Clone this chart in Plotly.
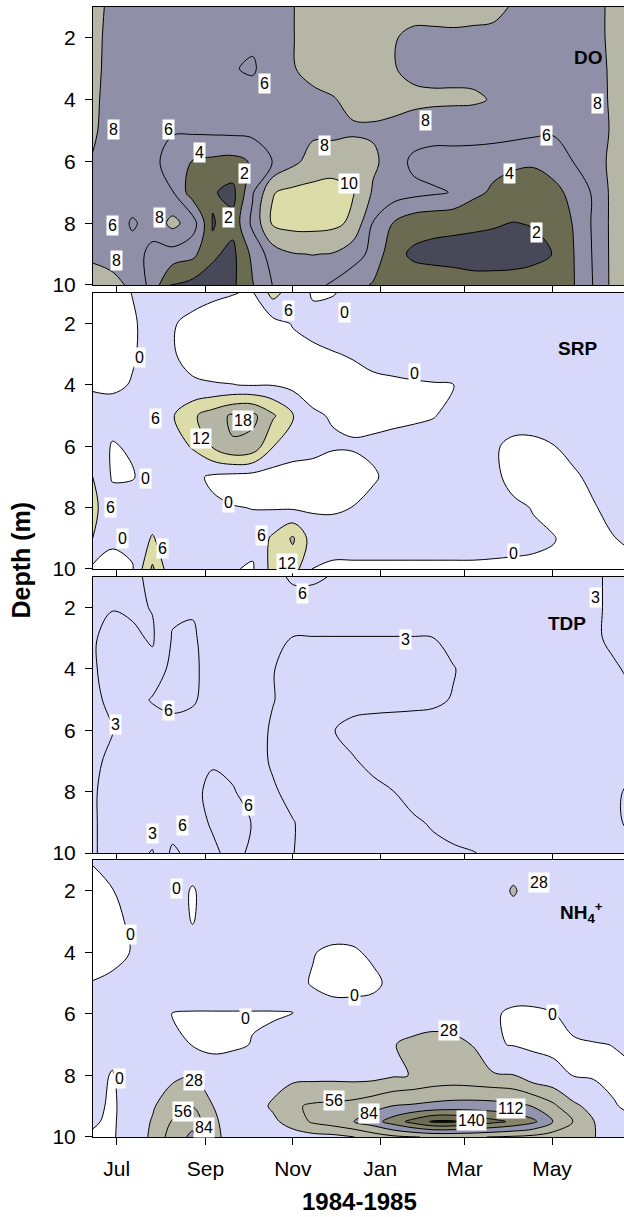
import pandas as pd
import plotly.graph_objects as go

# ---------------- data ----------------
grid_dates = pd.date_range("1984-06-14", periods=28, freq="14D")
depth = [1, 2, 3, 4, 5, 6, 7, 8, 9, 10]
nh4_depth = [1, 2, 3, 4, 5, 6, 7, 8, 9, 9.5, 10]

do_z = [
    [8.6, 7.6, 7.3, 7.2, 7.2, 7.2, 7.3, 7.4, 7.5, 7.8, 7.95, 8.6, 8.8, 8.8, 8.7, 8.6, 8.5, 8.5, 8.4, 8.3, 8.3, 7.9, 7.5, 7.4, 7.5, 7.6, 8.3, 9.0],
    [8.5, 7.5, 7.1, 7.0, 7.0, 6.9, 6.8, 6.5, 6.3, 7.2, 7.95, 8.6, 8.8, 8.7, 8.4, 8.1, 7.7, 7.7, 7.8, 7.8, 7.7, 7.4, 7.3, 7.2, 7.2, 7.6, 8.3, 9.0],
    [8.5, 7.4, 7.0, 6.9, 6.8, 6.7, 6.6, 6.1, 5.8, 6.9, 7.9, 8.5, 8.7, 8.6, 8.4, 8.1, 7.6, 7.5, 7.6, 7.6, 7.5, 7.2, 7.1, 7.0, 7.0, 7.4, 8.3, 9.0],
    [8.4, 7.3, 6.9, 6.8, 6.7, 6.6, 6.6, 6.6, 6.7, 7.0, 7.4, 7.6, 7.9, 8.4, 8.5, 8.5, 8.4, 8.3, 8.25, 8.2, 7.9, 7.1, 6.9, 6.8, 6.9, 7.3, 8.3, 9.0],
    [8.3, 7.2, 6.8, 6.5, 6.1, 6.3, 6.4, 6.5, 6.6, 6.8, 7.2, 7.6, 7.3, 7.8, 7.8, 7.6, 7.2, 7.0, 7.0, 7.0, 7.0, 6.8, 6.5, 6.3, 6.5, 7.0, 8.3, 9.0],
    [7.9, 7.1, 6.8, 6.3, 5.5, 3.9, 3.6, 3.4, 4.2, 6.05, 7.5, 8.8, 9.5, 8.8, 8.3, 7.3, 5.5, 5.0, 5.0, 4.9, 4.6, 4.3, 4.2, 4.6, 6.05, 7.0, 8.6, 9.0],
    [7.6, 7.2, 6.9, 6.6, 6.05, 3.0, 2.2, 1.4, 5.8, 9.9, 10.5, 10.6, 10.4, 10.1, 7.8, 7.0, 6.6, 6.3, 5.9, 4.5, 3.7, 3.3, 3.2, 3.6, 4.4, 6.3, 8.6, 9.0],
    [7.4, 7.0, 5.8, 6.6, 8.6, 7.0, 1.9, 2.6, 6.5, 10.3, 10.7, 10.7, 10.5, 9.6, 5.9, 3.95, 2.8, 2.5, 2.4, 2.3, 2.15, 1.95, 2.1, 2.8, 4.1, 6.3, 8.6, 9.0],
    [7.8, 7.6, 6.6, 5.6, 5.2, 4.5, 2.3, 1.5, 4.5, 7.0, 7.9, 8.05, 7.9, 6.8, 5.5, 2.6, 1.7, 1.5, 1.4, 1.3, 1.3, 1.3, 1.5, 2.05, 3.95, 6.2, 8.6, 9.0],
    [8.5, 8.3, 7.8, 5.2, 1.7, 1.4, 1.2, 1.6, 3.9, 6.05, 6.8, 6.6, 5.7, 4.8, 3.8, 3.0, 3.0, 2.9, 2.8, 2.6, 2.6, 2.7, 2.9, 3.2, 3.9, 6.1, 8.6, 9.0],
]

srp_z = [
    [-1.0, -1.5, 0.1, 2.0, 2.5, 1.5, 0.8, 0.2, -0.5, 8.0, 3.0, -0.5, -0.3, 1.5, 2.5, 2.8, 3.0, 3.0, 3.0, 3.0, 3.0, 3.0, 3.0, 3.0, 3.0, 3.0, 3.0, 3.0],
    [-1.2, -1.5, -0.5, 1.5, 0.3, -1.0, -2.0, -2.5, -2.5, -2.0, 0.3, 1.5, 2.5, 3.0, 3.0, 3.0, 3.0, 3.0, 3.0, 3.0, 3.0, 3.0, 3.0, 3.0, 3.0, 3.0, 3.0, 3.0],
    [-1.0, -1.5, -0.3, 1.2, 0.3, -1.2, -2.5, -3.0, -3.0, -2.5, -1.8, -1.0, -0.3, 0.4, 2.0, 2.5, 3.0, 3.0, 3.0, 3.0, 3.0, 3.0, 3.0, 3.0, 3.0, 3.0, 3.0, 3.0],
    [-0.4, -0.6, 0.2, 1.5, 1.8, 0.5, 0.3, 0.1, -0.3, -0.2, -1.5, -1.5, -1.8, -1.8, -1.5, -1.0, -0.6, -0.3, -0.2, 1.5, 2.5, 3.0, 3.0, 3.0, 3.0, 3.0, 3.0, 3.0],
    [1.5, 1.5, 2.0, 2.5, 5.5, 11.0, 15.0, 19.0, 19.5, 13.0, 6.2, 0.5, -0.3, -1.2, -1.5, -1.5, -1.0, -0.3, 1.5, 2.5, 3.0, 3.0, 3.0, 3.0, 3.0, 3.0, 3.0, 3.0],
    [2.5, -0.3, 0.5, 2.0, 3.5, 6.5, 12.5, 17.5, 16.0, 6.2, 3.0, 2.0, 0.5, 0.5, 1.0, 2.0, 2.5, 2.8, 3.0, 3.0, 0.8, -1.5, -1.5, -0.2, 2.0, 2.5, 3.0, 3.0],
    [6.2, -0.5, -0.3, 2.0, 2.5, 1.5, -1.0, -2.0, -2.5, -2.8, -3.0, -3.0, -3.0, -2.5, -0.6, 1.5, 2.5, 3.0, 2.5, 2.5, 1.5, -2.0, -2.5, -2.5, -1.0, 1.5, 2.5, 3.0],
    [7.5, 2.5, 2.5, 2.5, 2.5, 2.0, 1.0, 0.2, -0.1, -0.5, -0.8, -0.7, -0.7, 0.1, 1.5, 2.5, 3.0, 3.0, 3.0, 3.0, 2.5, 1.2, -0.3, -2.0, -2.0, -0.5, 2.0, 3.0],
    [6.3, 0.8, 2.0, 6.5, 2.0, 2.0, 1.5, 1.0, 1.5, 7.0, 12.8, 3.0, 2.5, 2.5, 2.5, 2.5, 2.5, 2.5, 2.5, 2.5, 2.0, 1.5, 1.0, 0.3, -2.0, -2.0, -0.2, 1.5],
    [-1.0, -1.5, -0.5, 13.0, 1.0, 1.5, 1.0, 0.3, -0.5, 8.0, 9.0, -0.5, -1.0, -1.0, -1.0, -1.0, -1.0, -1.0, -1.0, -1.0, -1.0, -1.0, -1.0, -1.2, -1.5, -2.0, -2.0, -2.0],
]

tdp_z = [
    [2.5, 2.0, 2.4, 3.6, 4.5, 4.8, 4.8, 4.5, 4.5, 5.0, 6.5, 6.5, 5.8, 4.5, 4.5, 4.5, 4.5, 4.5, 4.5, 4.5, 4.5, 4.5, 4.5, 4.5, 4.5, 3.4, 2.5, 2.0],
    [2.5, 2.8, 2.6, 3.1, 5.5, 5.8, 5.0, 4.5, 4.5, 4.5, 4.5, 4.5, 4.5, 4.5, 4.5, 4.5, 4.5, 4.5, 4.5, 4.5, 4.5, 4.5, 4.5, 4.5, 4.5, 3.4, 2.5, 2.0],
    [2.5, 4.5, 3.5, 2.7, 6.2, 6.3, 5.0, 4.5, 4.5, 3.8, 2.9, 2.9, 2.9, 2.9, 2.9, 2.9, 2.9, 2.95, 4.2, 4.5, 4.5, 4.5, 4.5, 4.5, 4.5, 3.4, 2.5, 2.0],
    [2.5, 4.5, 4.2, 3.8, 7.0, 6.5, 5.0, 4.5, 4.5, 3.1, 2.2, 2.0, 2.0, 2.0, 2.0, 2.0, 2.1, 2.3, 2.8, 4.3, 4.5, 4.5, 4.5, 4.5, 4.5, 4.3, 3.3, 2.5],
    [2.5, 3.5, 4.5, 6.3, 6.8, 6.3, 5.0, 4.5, 4.5, 3.1, 2.2, 2.0, 2.0, 2.0, 2.0, 2.1, 2.2, 2.4, 3.2, 4.3, 4.5, 4.5, 4.5, 4.5, 4.5, 4.5, 4.0, 3.2],
    [2.5, 2.9, 4.5, 4.0, 5.0, 5.0, 4.8, 4.5, 4.0, 2.7, 2.2, 2.3, 2.9, 3.8, 4.2, 4.3, 4.4, 4.5, 4.5, 4.5, 4.5, 4.5, 4.5, 4.5, 4.5, 4.5, 4.3, 4.0],
    [2.5, 3.5, 4.5, 4.5, 4.8, 5.0, 5.8, 5.3, 4.0, 2.7, 2.0, 2.0, 2.2, 2.8, 3.6, 4.2, 4.4, 4.5, 4.5, 4.5, 4.5, 4.5, 4.5, 4.5, 4.5, 4.5, 4.5, 4.5],
    [2.5, 4.5, 4.5, 4.5, 4.5, 5.5, 6.5, 6.2, 5.0, 3.3, 2.3, 2.0, 2.0, 2.1, 2.4, 2.95, 4.0, 4.5, 4.5, 4.5, 4.5, 4.5, 4.5, 4.5, 4.5, 4.5, 3.8, 2.0],
    [2.5, 4.5, 4.5, 4.5, 4.5, 5.0, 6.3, 7.0, 5.9, 4.0, 3.1, 2.2, 2.0, 2.0, 2.0, 2.2, 2.6, 3.3, 4.2, 4.5, 4.5, 4.5, 4.5, 4.5, 4.5, 4.5, 3.8, 2.0],
    [2.5, 4.5, 4.0, 2.8, 6.6, 5.0, 5.5, 6.8, 5.5, 4.0, 3.05, 2.3, 2.1, 2.0, 2.0, 2.0, 2.1, 2.3, 2.5, 2.9, 3.5, 4.5, 4.5, 4.5, 4.5, 4.5, 4.3, 4.0],
]

nh4_z = [
    [1.0, 5.0, 8.0, 10, 10, 10, 10, 10, 10, 10, 10, 10, 10, 10, 10, 10, 10, 10, 10, 10, 10, 10, 10, 10, 10, 10, 10, 10],
    [-5.0, -0.5, 6.0, 10, 10, -2.0, 10, 10, 10, 10, 10, 10, 10, 10, 10, 10, 10, 10, 10, 10, 10, 32, 10, 10, 10, 10, 10, 10],
    [-6.0, -3.0, 2.0, 10, 10, -1.0, 10, 10, 10, 10, 10, 6.0, 6.0, 6.0, 6.0, 10, 10, 10, 10, 10, 10, 10, 10, 10, 10, 10, 10, 10],
    [-6.0, -3.0, 0.5, 10, 10, 10, 10, 10, 10, 10, 8.0, 0.5, -2.0, -1.5, 2.0, 10, 10, 10, 10, 10, 10, 10, 10, 10, 10, 10, 10, 10],
    [0.5, 2.0, 8.0, 10, 10, 10, 10, 10, 10, 10, 3.0, -0.8, -4.0, -4.0, -2.5, 3.0, 10, 10, 10, 10, 10, 10, 10, 10, 10, 10, 10, 10],
    [10, 10, 10, 10, -0.5, -1.0, -1.0, -1.0, -1.0, -1.0, -0.3, 5.0, 5.0, 5.0, 5.0, 10, 15, 20, 20, 8.0, 2.0, -3.0, -3.0, -0.5, 8.0, 10, 10, 10],
    [10, 5.0, 10, 10, 3.0, -0.5, -6.0, -2.0, 0.5, 3.0, 10, 10, 10, 12, 18, 27, 33, 34, 32, 27.5, 2.0, -1.0, -3.0, -4.0, -3.0, -1.0, 0.3, 5.0],
    [5.0, -1.0, 8.0, 15, 22, 29, 14, 8.0, 10, 15, 20, 20, 20, 18, 18, 25, 29, 36, 38, 35, 31, 29, 10, 5.0, -0.5, -3.0, -3.0, -3.0],
    [5.0, -3.0, 10, 25, 45, 55, 28.5, 10, 15, 32, 52, 60, 62, 66, 75, 85, 88, 92, 95, 96, 95, 90, 83, 62, 33, 20, 1.0, -3.0],
    [2.0, -3.0, 12, 30, 58, 75, 35, 12, 15, 22, 40, 60, 70, 83, 100, 125, 150, 172, 172, 160, 148, 135, 118, 83, 55, 29, 5.0, 2.0],
    [-2.0, -3.0, 15, 32, 70, 90, 40, 12, 10, 12, 15, 18, 20, 27, 40, 50, 55, 58, 58, 58, 55, 52, 48, 42, 35, 29, 18, 10],
]

do_levels = dict(start=2, end=10, size=2)
srp_levels = dict(start=0, end=18, size=6)
tdp_levels = dict(start=3, end=6, size=3)
nh4_levels = dict(start=0, end=168, size=28)

month_ticks = ["1984-07-01", "1984-09-01", "1984-11-01", "1985-01-01", "1985-03-01", "1985-05-01"]
month_text = ["Jul", "Sep", "Nov", "Jan", "Mar", "May"]
depth_ticks = [2, 4, 6, 8, 10]

do_labels = [
    ("6", "1984-10-12", 3.47), ("8", "1984-06-29", 4.95), ("6", "1984-08-06", 4.98),
    ("4", "1984-08-28", 5.72), ("2", "1984-09-28", 6.40), ("8", "1984-11-23", 5.50),
    ("10", "1984-12-10", 6.70), ("8", "1985-02-02", 4.69), ("6", "1985-04-27", 5.17),
    ("8", "1985-06-02", 4.14), ("4", "1985-04-01", 6.40), ("2", "1985-04-20", 8.31),
    ("6", "1984-06-28", 8.09), ("8", "1984-07-31", 7.83), ("2", "1984-09-17", 7.83),
    ("8", "1984-07-01", 9.22),
]
srp_labels = [
    ("6", "1984-10-29", 1.58), ("0", "1984-12-07", 1.65), ("0", "1984-07-17", 3.10),
    ("0", "1985-01-25", 3.63), ("6", "1984-07-28", 5.09), ("12", "1984-08-29", 5.74),
    ("18", "1984-09-27", 5.16), ("0", "1984-07-21", 7.04), ("6", "1984-06-27", 8.01),
    ("0", "1984-09-17", 7.82), ("0", "1984-07-05", 9.02), ("6", "1984-08-02", 9.34),
    ("6", "1984-10-10", 8.92), ("12", "1984-10-28", 9.83), ("0", "1985-04-04", 9.50),
]
tdp_labels = [
    ("6", "1984-11-08", 1.55), ("3", "1985-05-31", 1.68), ("3", "1985-01-19", 3.05),
    ("6", "1984-08-06", 5.35), ("3", "1984-06-30", 5.80), ("6", "1984-10-01", 8.46),
    ("3", "1984-07-26", 9.35), ("6", "1984-08-16", 9.09),
]
nh4_labels = [
    ("0", "1984-08-12", 1.92), ("28", "1985-04-22", 1.72), ("0", "1984-07-11", 3.43),
    ("0", "1984-12-14", 5.40), ("0", "1984-09-29", 6.15), ("0", "1985-05-01", 6.02),
    ("28", "1985-02-18", 6.53), ("0", "1984-07-03", 8.09), ("28", "1984-08-24", 8.18),
    ("56", "1984-08-16", 9.16), ("84", "1984-08-31", 9.70), ("56", "1984-11-30", 8.83),
    ("84", "1984-12-24", 9.25), ("112", "1985-04-02", 9.09), ("140", "1985-03-06", 9.45),
]

# ---------------- styling ----------------
FONT = "Liberation Sans, Arial, sans-serif"
LAV = "#d8d8fa"
do_colors = ["#474858", "#6b6b52", "#8f90a8", "#8f90a8", "#b6b6a6", "#dcdca9"]
srp_colors = ["#ffffff", LAV, "#dcdcaa", "#b5b5a5", "#b0b0a0"]
tdp_colors = [LAV, LAV, LAV]
nh4_colors = ["#ffffff", LAV, "#b8b8a8", "#b4b4a4", "#9394ad", "#85856b", "#6d6d54", "#111111"]


def scale(colors):
    n = len(colors) - 1
    return [[i / n, c] for i, c in enumerate(colors)]


panels = [
    ("<b>DO</b>", do_z, depth, do_levels, do_colors, do_labels, (0.934, 0.82)),
    ("<b>SRP</b>", srp_z, depth, srp_levels, srp_colors, srp_labels, (0.912, 0.80)),
    ("<b>TDP</b>", tdp_z, depth, tdp_levels, tdp_colors, tdp_labels, (0.893, 0.83)),
    ("<b>NH<sub>4</sub><sup>+</sup></b>", nh4_z, nh4_depth, nh4_levels, nh4_colors, nh4_labels, (0.92, 0.81)),
]
domains = [[0.7540, 1.0], [0.5027, 0.7469], [0.2513, 0.4956], [0.0, 0.2451]]

fig = go.Figure()
annotations = []
layout_axes = {}
x_range = ["1984-06-14 12:00", "1985-06-20 06:00"]

for i, (title, z, ys, lev, cols, labels, tpos) in enumerate(panels):
    k = "" if i == 0 else str(i + 1)
    fig.add_trace(go.Contour(
        x=grid_dates, y=ys, z=z,
        autocontour=False,
        contours=dict(start=lev["start"], end=lev["end"], size=lev["size"],
                      coloring="fill", showlines=True),
        line=dict(color="black", width=1, smoothing=1.0),
        colorscale=scale(cols), showscale=False, hoverinfo="skip",
        xaxis="x" + k, yaxis="y" + k,
    ))
    layout_axes["xaxis" + k] = dict(
        domain=[0, 1], anchor="y" + k, type="date", range=x_range,
        tickvals=month_ticks, ticktext=month_text, showticklabels=(i == 3),
        ticks="outside", ticklen=7, tickcolor="black", tickwidth=1,
        showline=True, linecolor="black", linewidth=1, mirror=True,
        showgrid=False, zeroline=False,
        tickfont=dict(family=FONT, size=21, color="black"), ticklabelstandoff=6,
    )
    layout_axes["yaxis" + k] = dict(
        domain=domains[i], anchor="x" + k, range=[10, 1],
        tickvals=depth_ticks, ticks="outside", ticklen=7, tickcolor="black", tickwidth=1,
        showline=True, linecolor="black", linewidth=1, mirror=False,
        showgrid=False, zeroline=False,
        tickfont=dict(family=FONT, size=21, color="black"), ticklabelstandoff=5,
    )
    for txt, d, dep in labels:
        annotations.append(dict(
            x=d, y=dep, xref="x" + k, yref="y" + k, text=txt, showarrow=False,
            font=dict(family=FONT, size=16, color="black"),
            bgcolor="white", borderpad=1, xanchor="center", yanchor="middle",
        ))
    annotations.append(dict(
        x=tpos[0], y=tpos[1], xref="x%s domain" % k, yref="y%s domain" % k,
        text=title, showarrow=False, xanchor="center", yanchor="middle",
        font=dict(family=FONT, size=19, color="black"),
    ))

annotations.append(dict(
    x=-0.1347, y=0.5106, xref="paper", yref="paper", text="<b>Depth (m)</b>",
    textangle=-90, showarrow=False, xanchor="center", yanchor="middle",
    font=dict(family=FONT, size=25, color="black"),
))
annotations.append(dict(
    x=0.501, y=-0.0570, xref="paper", yref="paper", text="<b>1984-1985</b>",
    showarrow=False, xanchor="center", yanchor="middle", borderpad=0,
    font=dict(family=FONT, size=24, color="black"),
))

fig.update_layout(
    width=624, height=1217,
    margin=dict(l=93, r=0, t=7, b=80),
    paper_bgcolor="white", plot_bgcolor="white",
    showlegend=False, annotations=annotations,
    font=dict(family=FONT, color="black"),
    **layout_axes,
)

fig.write_html("out.html")
